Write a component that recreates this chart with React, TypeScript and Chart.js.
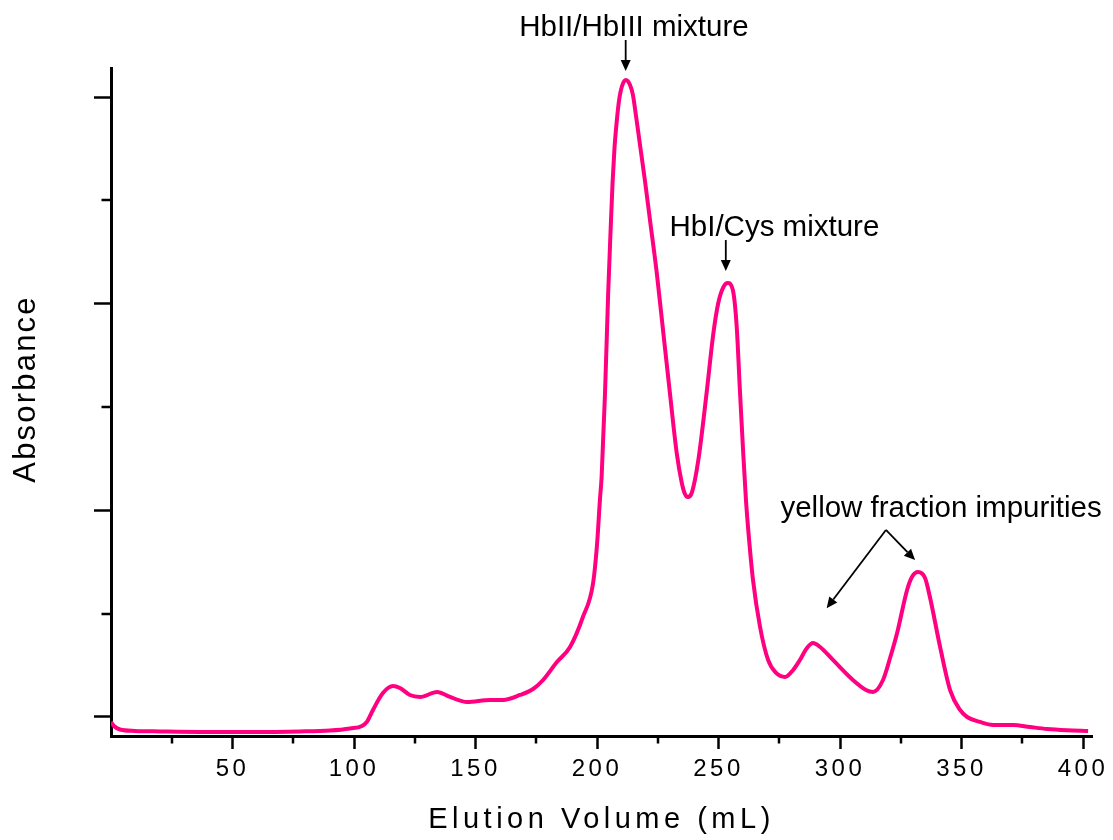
import { useEffect, useRef } from 'react';
import { Chart, registerables } from 'chart.js';

Chart.register(...registerables);

// Elution volume (mL) of each traced point
const volume = [
  0, 1.2, 3.7, 9.9, 20.2, 36.6, 57.2, 77.8, 90.1, 98.4, 103.3, 105.3, 107.8, 111.9, 116.0, 118.9,
  123.0, 127.2, 134.2, 139.5, 146.5, 156.0, 161.3, 168.3, 173.7, 177.8, 183.5, 188.9, 194.2, 198.4,
  200.0, 201.2, 201.9, 203.3, 204.6, 205.6, 206.4, 207.2, 208.1, 209.1, 210.3, 211.9, 213.6, 214.8,
  216.0, 217.7, 219.8, 221.8, 224.6, 227.3, 230.0, 232.8, 234.9, 236.2, 237.4, 239.1, 241.7, 245.1,
  247.9, 249.9, 252.0, 253.8, 255.9, 257.5, 258.8, 260.1, 261.3, 262.6, 264.2, 267.1, 270.4, 273.7,
  277.4, 280.7, 283.5, 286.4, 288.9, 291.8, 297.1, 305.3, 310.7, 313.6, 317.7, 320.6, 323.5, 327.6,
  329.6, 332.1, 335.0, 337.0, 341.2, 345.3, 349.4, 352.3, 357.6, 363.0, 371.2, 378.2, 385.2, 393.4,
  402.1,
];

// Absorbance (arbitrary units) at each volume
const absorbance = [
  -0.0048, -0.0087, -0.0121, -0.0135, -0.014, -0.0145, -0.0145, -0.014, -0.0131, -0.0111, -0.0087,
  -0.0048, 0.0068, 0.0232, 0.03, 0.0281, 0.0213, 0.0194, 0.0242, 0.0194, 0.0145, 0.0165, 0.0165,
  0.0213, 0.0271, 0.0358, 0.0532, 0.0677, 0.0968, 0.1297,
  0.1665, 0.21, 0.2323, 0.3136, 0.4103, 0.4713, 0.5168, 0.5507, 0.5759, 0.5971, 0.6107, 0.6165,
  0.6116, 0.6019, 0.5826, 0.5536, 0.5178, 0.481, 0.4297, 0.3716, 0.3136, 0.2555, 0.2265, 0.2158,
  0.2129, 0.2177, 0.2487, 0.3136, 0.3716, 0.4007, 0.4161, 0.42, 0.4132, 0.3774, 0.3165, 0.2584,
  0.21, 0.1713, 0.1326, 0.0871, 0.0552, 0.0426, 0.0387, 0.0455, 0.0552, 0.0668, 0.0716, 0.0677,
  0.0552, 0.0358, 0.0261, 0.0242, 0.0358, 0.0571, 0.0813, 0.1229, 0.1355, 0.1403, 0.1345, 0.1161,
  0.0677, 0.0261, 0.0068, 0.0, -0.0048, -0.0077, -0.0077, -0.0097, -0.0116, -0.0128, -0.0135,
];

const xMajorTicks = [50, 100, 150, 200, 250, 300, 350, 400];
const xMinorTicks = [25, 75, 125, 175, 225, 275, 325, 375];
const yMajorTicks = [0, 0.2, 0.4, 0.6];
const yMinorTicks = [0.1, 0.3, 0.5];

const xTitle = 'Elution Volume (mL)';
const yTitle = 'Absorbance';

// Annotations (data coordinates)
const noteText = ['HbII/HbIII mixture', 'HbI/Cys mixture', 'yellow fraction impurities'];
const noteX = [215.2, 273.0, 341.6];
const noteY = [0.659, 0.4655, 0.1938];

const arrowFromX = [211.8, 253.0, 318.9, 318.9];
const arrowFromY = [0.6552, 0.4616, 0.181, 0.181];
const arrowToX = [211.8, 253.0, 294.5, 330.9];
const arrowToY = [0.6252, 0.4316, 0.1052, 0.1519];

const FONT = "'Liberation Sans', Arial, Helvetica, sans-serif";

// Wrap a scale's text drawing so it uses letter spacing (and an optional title offset)
function spacedText(labelSpacing: string, titleSpacing: string, titleDx: number, titleDy: number) {
  return (s: any) => {
    if (s.__spaced) return;
    s.__spaced = true;
    const origTitle = s.drawTitle;
    const origLabels = s.drawLabels;
    s.drawTitle = function (...args: any[]) {
      const c = s.ctx;
      c.save();
      c.letterSpacing = titleSpacing;
      c.translate(titleDx, titleDy);
      origTitle.apply(s, args);
      c.restore();
    };
    s.drawLabels = function (...args: any[]) {
      const c = s.ctx;
      c.save();
      c.letterSpacing = labelSpacing;
      origLabels.apply(s, args);
      c.restore();
    };
  };
}

const extrasPlugin = {
  id: 'extras',
  afterDraw(chart: any) {
    const { ctx, chartArea } = chart;
    const x = chart.scales.x;
    const y = chart.scales.y;
    ctx.save();
    ctx.letterSpacing = '0px';
    // minor ticks
    ctx.strokeStyle = '#000';
    ctx.lineWidth = 2.5;
    ctx.beginPath();
    xMinorTicks.forEach((v) => {
      const px = Math.round(x.getPixelForValue(v));
      ctx.moveTo(px, chartArea.bottom);
      ctx.lineTo(px, chartArea.bottom + 7.5);
    });
    yMinorTicks.forEach((v) => {
      const py = Math.round(y.getPixelForValue(v));
      ctx.moveTo(chartArea.left, py);
      ctx.lineTo(chartArea.left - 9.5, py);
    });
    ctx.stroke();

    // annotation texts
    ctx.fillStyle = '#000';
    ctx.font = `29.5px ${FONT}`;
    ctx.textAlign = 'center';
    ctx.textBaseline = 'alphabetic';
    noteText.forEach((t, i) => {
      ctx.fillText(t, x.getPixelForValue(noteX[i]), y.getPixelForValue(noteY[i]));
    });

    // arrows
    ctx.lineWidth = 1.8;
    arrowFromX.forEach((_, i) => {
      const x1 = x.getPixelForValue(arrowFromX[i]);
      const y1 = y.getPixelForValue(arrowFromY[i]);
      const x2 = x.getPixelForValue(arrowToX[i]);
      const y2 = y.getPixelForValue(arrowToY[i]);
      const ang = Math.atan2(y2 - y1, x2 - x1);
      const hl = 11;
      const hw = 5;
      const bx = x2 - hl * Math.cos(ang);
      const by = y2 - hl * Math.sin(ang);
      ctx.beginPath();
      ctx.moveTo(x1, y1);
      ctx.lineTo(bx, by);
      ctx.stroke();
      ctx.beginPath();
      ctx.moveTo(x2, y2);
      ctx.lineTo(bx + hw * Math.sin(ang), by - hw * Math.cos(ang));
      ctx.lineTo(bx - hw * Math.sin(ang), by + hw * Math.cos(ang));
      ctx.closePath();
      ctx.fill();
    });
    ctx.restore();
  },
};

export default function App() {
  const ref = useRef<HTMLCanvasElement>(null);

  useEffect(() => {
    const canvas = ref.current;
    if (!canvas) return;
    const points = volume.map((v, i) => ({ x: v, y: absorbance[i] }));
    const chart = new Chart(canvas, {
      type: 'scatter',
      data: {
        datasets: [
          {
            data: points,
            showLine: true,
            borderColor: '#ff0080',
            backgroundColor: '#ff0080',
            borderWidth: 4,
            pointRadius: 0,
            cubicInterpolationMode: 'monotone',
            fill: false,
          } as any,
        ],
      },
      options: {
        responsive: false,
        animation: false,
        events: [],
        layout: { padding: { left: 0, top: 68, right: 21, bottom: 0 } },
        plugins: {
          legend: { display: false },
          tooltip: { enabled: false },
        },
        scales: {
          x: {
            type: 'linear',
            position: 'bottom',
            min: 0,
            max: 403.7,
            afterUpdate: spacedText('3.5px', '4.5px', 0, 0),
            afterBuildTicks: (s: any) => {
              s.ticks = xMajorTicks.map((v) => ({ value: v }));
            },
            afterFit: (s: any) => {
              s.height = 104;
            },
            ticks: {
              font: { family: FONT, size: 24 },
              color: '#000',
              padding: 6,
              maxRotation: 0,
              autoSkip: false,
              callback: (v: any) => String(v),
            },
            grid: {
              drawOnChartArea: false,
              drawTicks: true,
              tickLength: 13,
              tickWidth: 2.5,
              tickColor: '#000',
            },
            border: { display: true, color: '#000', width: 3 },
            title: {
              display: true,
              text: xTitle,
              color: '#000',
              font: { family: FONT, size: 29 },
              padding: { top: 0, bottom: 3 },
            },
          },
          y: {
            type: 'linear',
            min: -0.01839,
            max: 0.6281,
            afterUpdate: spacedText('0px', '2.2px', 0, -13),
            afterBuildTicks: (s: any) => {
              s.ticks = yMajorTicks.map((v) => ({ value: v }));
            },
            afterFit: (s: any) => {
              s.width = 111;
            },
            ticks: { display: false },
            grid: {
              drawOnChartArea: false,
              drawTicks: true,
              tickLength: 17,
              tickWidth: 2.5,
              tickColor: '#000',
            },
            border: { display: true, color: '#000', width: 3 },
            title: {
              display: true,
              text: yTitle,
              color: '#000',
              font: { family: FONT, size: 31 },
              padding: { top: 8, bottom: 0 },
            },
          },
        },
      } as any,
      plugins: [extrasPlugin],
    });
    return () => chart.destroy();
  }, []);

  return (
    <div style={{ position: 'absolute', left: 0, top: 0, width: 1113, height: 840, background: '#fff' }}>
      <canvas ref={ref} width={1113} height={840} style={{ display: 'block' }} />
    </div>
  );
}
